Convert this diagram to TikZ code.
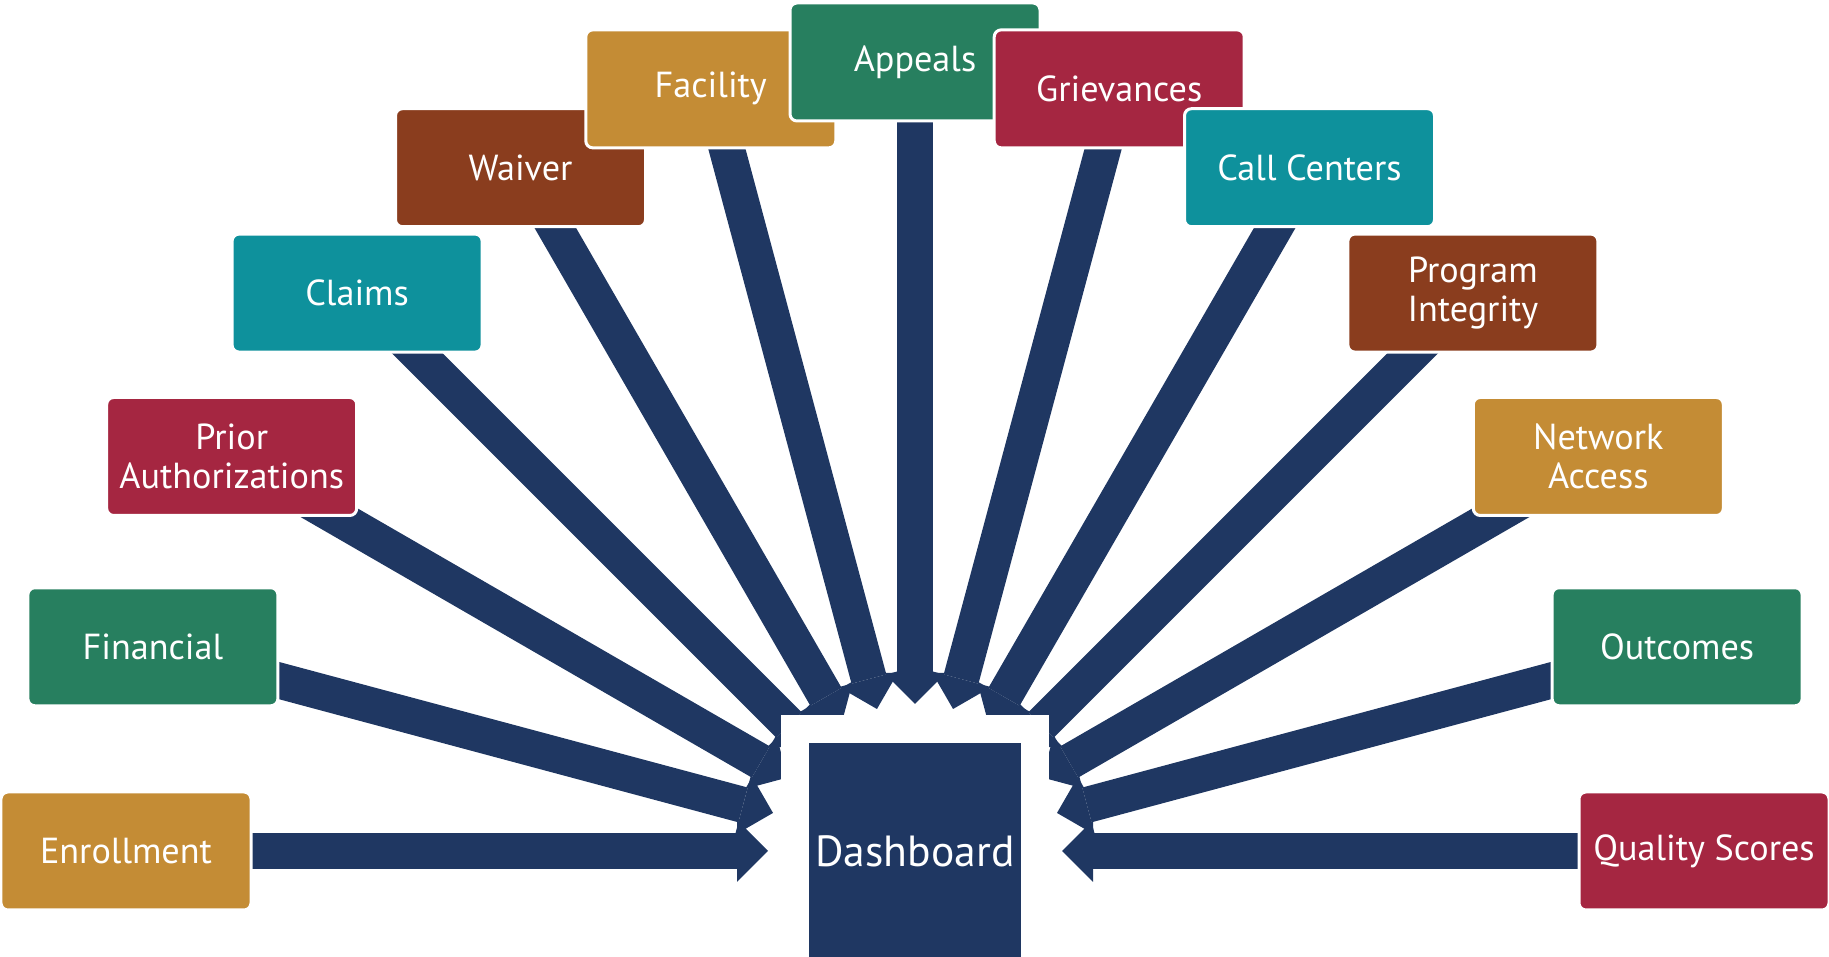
\documentclass[tikz,border=0pt]{standalone}
\usepackage{fontspec}
\setmainfont{PT Sans}
\usepackage{xcolor}
\usetikzlibrary{arrows.meta,calc}
\definecolor{navy}{HTML}{1F3762}
\definecolor{gold}{HTML}{C48C35}
\definecolor{pine}{HTML}{277F5F}
\definecolor{crimson}{HTML}{A52641}
\definecolor{teal}{HTML}{0E919C}
\definecolor{rust}{HTML}{8A3D1E}
\tikzset{
  topic/.style={draw=white,line width=0.6mm,rounded corners=1.4mm,text=white,align=center,minimum width=50mm,minimum height=23.6mm,inner sep=0pt,font=\fontsize{20.6}{22}\selectfont},
  hubbox/.style={fill=navy,draw=white,line width=5.6mm,text=white,align=center,minimum width=48mm,minimum height=48.8mm,inner sep=0pt,font=\fontsize{24.8}{26}\selectfont},
  feed/.style={draw=navy,line width=7.2mm,-{Triangle[length=6.2mm 0 0,width=12.4mm 0 0,line width=0pt]}}
}

\begin{document}
\begin{tikzpicture}[x=0.2mm,y=0.2mm]
  \useasboundingbox (0,0) rectangle (1829,957);
  \coordinate (hub) at (915,106);

  % arrow tips on a ring round the dashboard, every 15 degrees
  \coordinate (tEnroll) at ($(hub)+(180:147)$);
  \coordinate (tFin) at ($(hub)+(165:147)$);
  \coordinate (tPrior) at ($(hub)+(150:147)$);
  \coordinate (tClaims) at ($(hub)+(135:147)$);
  \coordinate (tWaiver) at ($(hub)+(120:147)$);
  \coordinate (tFacility) at ($(hub)+(105:147)$);
  \coordinate (tAppeals) at ($(hub)+(90:147)$);
  \coordinate (tGriev) at ($(hub)+(75:147)$);
  \coordinate (tCalls) at ($(hub)+(60:147)$);
  \coordinate (tIntegrity) at ($(hub)+(45:147)$);
  \coordinate (tNetwork) at ($(hub)+(30:147)$);
  \coordinate (tOutcomes) at ($(hub)+(15:147)$);
  \coordinate (tQuality) at ($(hub)+(0:147)$);

  % source boxes on the outer ring
  \coordinate (pEnroll) at ($(hub)+(180:789)$);
  \coordinate (pFin) at ($(hub)+(165:789)$);
  \coordinate (pPrior) at ($(hub)+(150:789)$);
  \coordinate (pClaims) at ($(hub)+(135:789)$);
  \coordinate (pWaiver) at ($(hub)+(120:789)$);
  \coordinate (pFacility) at ($(hub)+(105:789)$);
  \coordinate (pAppeals) at ($(hub)+(90:789)$);
  \coordinate (pGriev) at ($(hub)+(75:789)$);
  \coordinate (pCalls) at ($(hub)+(60:789)$);
  \coordinate (pIntegrity) at ($(hub)+(45:789)$);
  \coordinate (pNetwork) at ($(hub)+(30:789)$);
  \coordinate (pOutcomes) at ($(hub)+(15:789)$);
  \coordinate (pQuality) at ($(hub)+(0:789)$);

  \draw[feed] (pEnroll) -- (tEnroll);
  \draw[feed] (pFin) -- (tFin);
  \draw[feed] (pPrior) -- (tPrior);
  \draw[feed] (pClaims) -- (tClaims);
  \draw[feed] (pWaiver) -- (tWaiver);
  \draw[feed] (pFacility) -- (tFacility);
  \draw[feed] (pAppeals) -- (tAppeals);
  \draw[feed] (pGriev) -- (tGriev);
  \draw[feed] (pCalls) -- (tCalls);
  \draw[feed] (pIntegrity) -- (tIntegrity);
  \draw[feed] (pNetwork) -- (tNetwork);
  \draw[feed] (pOutcomes) -- (tOutcomes);
  \draw[feed] (pQuality) -- (tQuality);

  \node (enroll) [topic,fill=gold] at (pEnroll) {Enrollment};
  \node (fin) [topic,fill=pine] at (pFin) {Financial};
  \node (prior) [topic,fill=crimson] at (pPrior) {Prior\\Authorizations};
  \node (claims) [topic,fill=teal] at (pClaims) {Claims};
  \node (waiver) [topic,fill=rust] at (pWaiver) {Waiver};
  \node (facility) [topic,fill=gold] at (pFacility) {Facility};
  \node (appeals) [topic,fill=pine] at (pAppeals) {Appeals};
  \node (griev) [topic,fill=crimson] at (pGriev) {Grievances};
  \node (calls) [topic,fill=teal] at (pCalls) {Call Centers};
  \node (integrity) [topic,fill=rust] at (pIntegrity) {Program\\Integrity};
  \node (network) [topic,fill=gold] at (pNetwork) {Network\\Access};
  \node (outcomes) [topic,fill=pine] at (pOutcomes) {Outcomes};
  \node (quality) [topic,fill=crimson] at (pQuality) {Quality Scores};

  \node (dash) [hubbox] at (hub) {Dashboard};
\end{tikzpicture}
\end{document}
